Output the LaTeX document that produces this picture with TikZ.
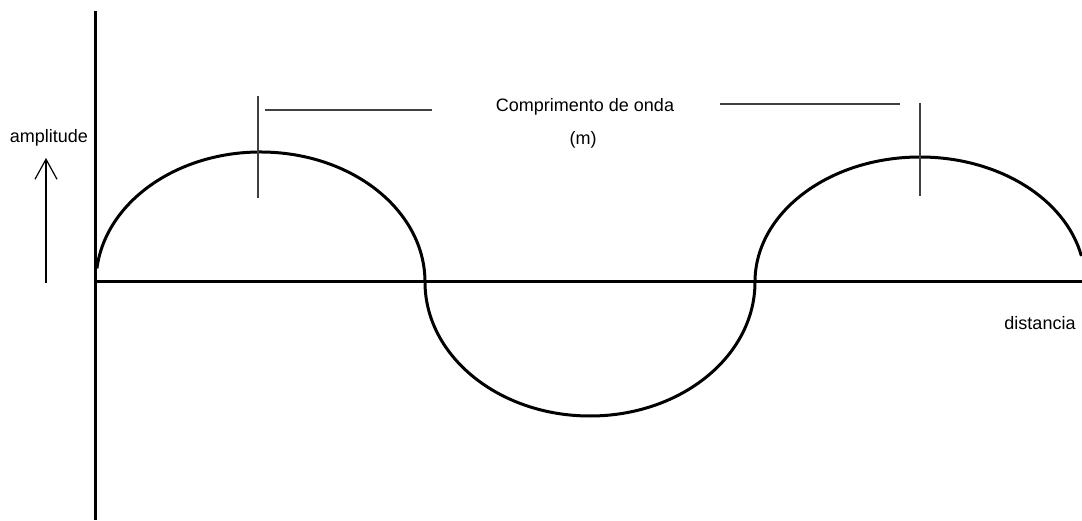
\documentclass[tikz,border=0pt]{standalone}
\usepackage{fontspec}
\setmainfont{Liberation Sans}
\usepackage{tikz}
\usetikzlibrary{arrows.meta,calc}

\begin{document}
\begin{tikzpicture}[x=1pt,y=1pt,font=\fontsize{18}{21}\selectfont]
            \useasboundingbox (0,0) rectangle (1082,520);
            \draw[line width=3pt] (95,509) -- (95,0);
            \draw[line width=3pt] (95,238) -- (1082,238);
            \draw[line width=3pt] ($(260.5,238) + (174:164.5 and 130)$) arc[start angle=174,end angle=0,x radius=164.5,y radius=130]
                arc[start angle=180,end angle=360,x radius=165,y radius=134]
                arc[start angle=180,end angle=12,x radius=165,y radius=125];
            \draw[line width=1.3pt,black!75] (258,424) -- (258,322);
            \draw[line width=1.3pt,black!75] (920,417) -- (920,324);
            \draw[line width=1.3pt,black!75] (265,410) -- (432,410);
            \draw[line width=1.3pt,black!75] (720,416) -- (900,416);
            \node (lambda) at (585,413) {Comprimento de onda};
            \node (unit) at (583,380) {(m)};
            \node (amp) at (49,382) {amplitude};
            \node (dist) at (1040,197) {distancia};
            \draw[line width=1.2pt,-{Straight Barb[length=20pt,width=22pt]}] (46,237) -- (46,362);
          \end{tikzpicture}
\end{document}
